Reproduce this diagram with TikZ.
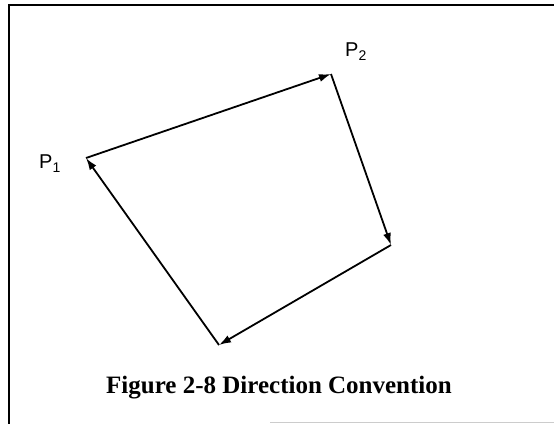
\documentclass[tikz,border=0pt]{standalone}
\usepackage{fontspec}
\setmainfont{Liberation Serif}
\setsansfont{Liberation Sans}
\usetikzlibrary{positioning,arrows.meta}

\begin{document}
\begin{tikzpicture}[x=1pt,y=-1pt,
  edge/.style={line width=1.8pt,-{Latex[length=12pt,width=8pt]}},
  plabel/.style={font=\sffamily\fontsize{20}{24}\selectfont,inner sep=0pt}]
\useasboundingbox (0,0) rectangle (554,424);
\draw[line width=2.5pt] (554,5) -- (9,5) -- (9,424);
\draw[black!20,line width=1pt] (270,422) -- (554,422);
\coordinate (p1) at (86,158);
\coordinate (p2) at (331,74);
\coordinate (p3) at (391,245);
\coordinate (p4) at (219,345);
\draw[edge] (p1) -- (p2);
\draw[edge] (p2) -- (p3);
\draw[edge] (p3) -- (p4);
\draw[edge] (p4) -- (p1);
\node[plabel,anchor=base west] (lab1) at (39,168) {P\raisebox{-4pt}{\fontsize{14}{14}\selectfont 1}};
\node[plabel,anchor=base west] (lab2) at (345,56) {P\raisebox{-4pt}{\fontsize{14}{14}\selectfont 2}};
\node[font=\bfseries\fontsize{25}{30}\selectfont,anchor=base] (caption) at (279,393) {Figure 2-8 Direction Convention};
\end{tikzpicture}
\end{document}
